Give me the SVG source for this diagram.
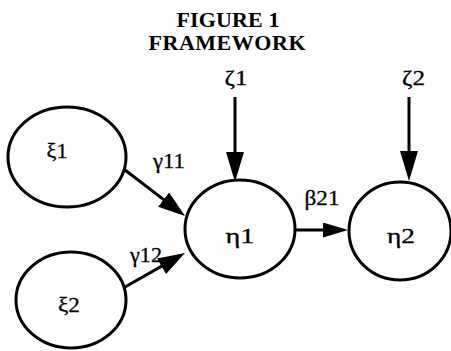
<svg xmlns="http://www.w3.org/2000/svg" width="451" height="351" viewBox="0 0 451 351">
<defs>
<style>
.node{fill:#fff;stroke:#000;stroke-width:3}
.edge{stroke:#000;stroke-width:3;fill:none}
.title{font-family:"Liberation Serif","Times New Roman",serif;font-weight:bold;font-size:22px;fill:#000;text-anchor:middle}
.lbl{font-family:"Liberation Serif","Times New Roman",serif;font-size:22px;fill:#000;stroke:#000;stroke-width:0.3;text-anchor:middle}
</style>
<marker id="ah" viewBox="0 0 27 18" refX="17" refY="9" markerWidth="27" markerHeight="18" markerUnits="userSpaceOnUse" orient="auto">
<path d="M0,0 L27,9 L0,18 z" fill="#000"/>
</marker>
<marker id="ahs" viewBox="0 0 25 15" refX="15" refY="7.5" markerWidth="25" markerHeight="15" markerUnits="userSpaceOnUse" orient="auto">
<path d="M0,0 L25,7.5 L0,15 z" fill="#000"/>
</marker>
<marker id="ahb" viewBox="0 0 30 18" refX="20" refY="9" markerWidth="30" markerHeight="18" markerUnits="userSpaceOnUse" orient="auto">
<path d="M0,0 L30,9 L0,18 z" fill="#000"/>
</marker>
</defs>
<rect width="451" height="351" fill="#fff"/>
<g id="title">
<text class="title" x="228" y="27" textLength="103">FIGURE 1</text>
<text class="title" x="227" y="50" textLength="157">FRAMEWORK</text>
</g>
<g id="connectors">
<line class="edge" x1="125" y1="170" x2="177.1" y2="209.9" marker-end="url(#ah)"/>
<line class="edge" x1="125" y1="287" x2="176.3" y2="257.9" marker-end="url(#ah)"/>
<line class="edge" x1="295" y1="230" x2="338" y2="230" marker-end="url(#ahs)"/>
<line class="edge" x1="235" y1="97" x2="235" y2="172" marker-end="url(#ahb)"/>
<line class="edge" x1="409" y1="97" x2="409" y2="171" marker-end="url(#ahb)"/>
<text class="lbl" x="169" y="168" textLength="32" lengthAdjust="spacingAndGlyphs">γ11</text>
<text class="lbl" x="146" y="262" textLength="32" lengthAdjust="spacingAndGlyphs">γ12</text>
<text class="lbl" x="322" y="205" textLength="35" lengthAdjust="spacingAndGlyphs">β21</text>
</g>
<g id="zeta1"><text class="lbl" x="236" y="85" textLength="23" lengthAdjust="spacingAndGlyphs">ζ1</text></g>
<g id="zeta2"><text class="lbl" x="413.5" y="85" textLength="23" lengthAdjust="spacingAndGlyphs">ζ2</text></g>
<g id="xi1"><ellipse class="node" cx="67" cy="157" rx="59" ry="50"/><text class="lbl" x="57" y="158" textLength="21" lengthAdjust="spacingAndGlyphs">ξ1</text></g>
<g id="xi2"><ellipse class="node" cx="71" cy="300" rx="55" ry="48"/><text class="lbl" x="69" y="312" textLength="22" lengthAdjust="spacingAndGlyphs">ξ2</text></g>
<g id="eta1"><ellipse class="node" cx="240" cy="229" rx="55" ry="49"/><text class="lbl" x="240" y="243" textLength="29" lengthAdjust="spacingAndGlyphs">η1</text></g>
<g id="eta2"><ellipse class="node" cx="400" cy="231" rx="51" ry="49"/><text class="lbl" x="401" y="243" textLength="28" lengthAdjust="spacingAndGlyphs">η2</text></g>
</svg>
